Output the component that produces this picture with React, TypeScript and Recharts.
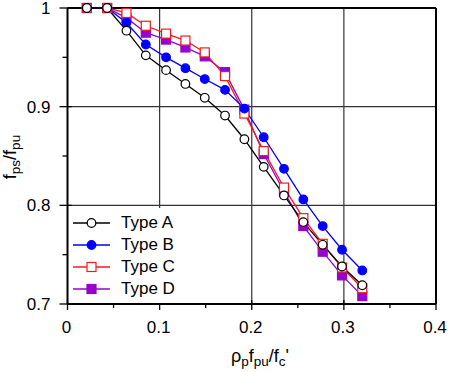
import { Legend, Line, LineChart, ReferenceLine, XAxis, YAxis } from "recharts";

// reinforcement index (rho_p * f_pu / f_c')
const loadRatio = [0.021, 0.043, 0.064, 0.085, 0.107, 0.128, 0.149, 0.171, 0.192, 0.213, 0.235, 0.256, 0.277, 0.298, 0.32];

// stress ratio f_ps / f_pu for each tendon type
const typeA = [1.0, 1.0, 0.977, 0.952, 0.937, 0.923, 0.909, 0.891, 0.867, 0.839, 0.81, 0.783, 0.76, 0.738, 0.719];
const typeB = [1.0, 1.0, 0.985, 0.963, 0.95, 0.939, 0.928, 0.917, 0.898, 0.869, 0.837, 0.806, 0.779, 0.755, 0.734];
const typeC = [1.0, 1.0, 0.995, 0.982, 0.974, 0.967, 0.955, 0.931, 0.893, 0.855, 0.818, 0.787, 0.761, 0.737, 0.716];
const typeD = [1.0, 1.0, 0.99, 0.975, 0.968, 0.96, 0.951, 0.935, 0.897, 0.852, 0.814, 0.779, 0.753, 0.729, 0.708];

const xTicks = [0, 0.05, 0.1, 0.15, 0.2, 0.25, 0.3, 0.35, 0.4];
const yTicks = [0.7, 0.75, 0.8, 0.85, 0.9, 0.95, 1];
const xGrid = [0.1, 0.2, 0.3];
const yGrid = [0.8, 0.9];

const FONT = "'Liberation Sans', Arial, Helvetica, sans-serif";

type Shape = "circle" | "square";

interface Series {
  key: string;
  name: string;
  values: number[];
  color: string;
  shape: Shape;
  filled: boolean;
}

const typeSeries: Series[] = [
  { key: "a", name: "Type A", values: typeA, color: "#000000", shape: "circle", filled: false },
  { key: "b", name: "Type B", values: typeB, color: "#0000ff", shape: "circle", filled: true },
  { key: "c", name: "Type C", values: typeC, color: "#f01c1c", shape: "square", filled: false },
  { key: "d", name: "Type D", values: typeD, color: "#9900cc", shape: "square", filled: true },
];

const data = loadRatio.map((x, i) => {
  const row: Record<string, number> = { x };
  typeSeries.forEach((s) => (row[s.key] = s.values[i]));
  return row;
});

const isMajor = (v: number) => Math.round(v * 100) % 10 === 0;

const Marker = ({ cx, cy, s }: { cx: number; cy: number; s: Series }) =>
  s.shape === "circle" ? (
    <circle cx={cx} cy={cy} r={4.3} fill={s.filled ? s.color : "#fff"} stroke={s.color} strokeWidth={1.2} />
  ) : (
    <rect x={cx - 4.5} y={cy - 4.5} width={9} height={9} fill={s.filled ? s.color : "#fff"} stroke={s.color} strokeWidth={1.2} />
  );

const XTick = ({ x, y, payload }: any) => {
  const major = isMajor(payload.value);
  return (
    <g>
      <line x1={x} x2={x} y1={major ? y - 4 : y} y2={major ? y + 6 : y + 4} stroke="#000" strokeWidth={1.3} />
      {major && (
        <text x={x - 1} y={y + 29} textAnchor="middle" fontSize={17} fontFamily={FONT} fill="#000">
          {String(payload.value)}
        </text>
      )}
    </g>
  );
};

const YTick = ({ x, y, payload }: any) => {
  const major = isMajor(payload.value);
  return (
    <g>
      <line x1={major ? x - 8 : x - 5} x2={major ? x + 4 : x} y1={y} y2={y} stroke="#000" strokeWidth={1.3} />
      {major && (
        <text x={x - 17} y={y + 6} textAnchor="end" fontSize={17} fontFamily={FONT} fill="#000">
          {String(payload.value)}
        </text>
      )}
    </g>
  );
};

const LegendBox = () => (
  <div style={{ background: "#fff", padding: "4px 0 0 4px" }}>
    {typeSeries.map((s) => (
      <div key={s.key} style={{ display: "flex", alignItems: "center", height: 22 }}>
        <svg width={37} height={22} style={{ display: "block" }}>
          <line x1={0} x2={37} y1={11} y2={11} stroke={s.color} strokeWidth={1.3} />
          <Marker cx={18.5} cy={11} s={s} />
        </svg>
        <span style={{ marginLeft: 11, fontSize: 17, fontFamily: FONT, color: "#000" }}>{s.name}</span>
      </div>
    ))}
  </div>
);

const XTitle = ({ viewBox }: any) => {
  const cx = 260;
  const base = viewBox.y + 58;
  return (
    <text x={cx} y={base} textAnchor="middle" fontSize={18} fontFamily={FONT} fill="#000">
      ρ<tspan fontSize={13.5} dy={4}>p</tspan>
      <tspan dy={-4}>f</tspan>
      <tspan fontSize={13.5} dy={4}>pu</tspan>
      <tspan dy={-4}>/f</tspan>
      <tspan fontSize={13.5} dy={4}>c</tspan>
      <tspan dy={-4}>'</tspan>
    </text>
  );
};

const YTitle = () => {
  const x = 16;
  const y = 157;
  return (
    <text x={x} y={y} transform={`rotate(-90, ${x}, ${y})`} textAnchor="middle" fontSize={18} fontFamily={FONT} fill="#000">
      f<tspan fontSize={13.5} dy={4}>ps</tspan>
      <tspan dy={-4}>/f</tspan>
      <tspan fontSize={13.5} dy={4}>pu</tspan>
    </text>
  );
};

// draw D first so Type A markers sit on top
const drawOrder = [...typeSeries].reverse();

export default function App() {
  return (
    <div style={{ position: "absolute", left: 0, top: 0 }}>
      <LineChart width={450} height={372} data={data} margin={{ top: 8, right: 14, bottom: 0, left: 0 }}>
        <XAxis
          type="number"
          dataKey="x"
          domain={[0, 0.4]}
          ticks={xTicks}
          interval={0}
          height={68}
          tickSize={0}
          tickMargin={0}
          tick={<XTick />}
          tickLine={false}
          axisLine={{ stroke: "#000", strokeWidth: 2 }}
          label={{ content: <XTitle /> }}
        />
        <YAxis
          type="number"
          domain={[0.7, 1]}
          ticks={yTicks}
          interval={0}
          width={67.5}
          tickSize={0}
          tickMargin={0}
          tick={<YTick />}
          tickLine={false}
          axisLine={{ stroke: "#000", strokeWidth: 2 }}
          label={{ content: <YTitle /> }}
        />
        {xGrid.map((v) => (
          <ReferenceLine key={`gx${v}`} x={v} stroke="#333" strokeWidth={1.2} />
        ))}
        {yGrid.map((v) => (
          <ReferenceLine key={`gy${v}`} y={v} stroke="#333" strokeWidth={1.2} />
        ))}
        <ReferenceLine x={0.4} stroke="#000" strokeWidth={2} />
        <ReferenceLine y={1} stroke="#000" strokeWidth={2} />
        {drawOrder.map((s) => (
          <Line
            key={s.key}
            dataKey={s.key}
            name={s.name}
            type="linear"
            stroke={s.color}
            strokeWidth={1.3}
            isAnimationActive={false}
            dot={(p: any) => <Marker key={`${s.key}${p.index}`} cx={p.cx} cy={p.cy} s={s} />}
            activeDot={false}
          />
        ))}
        <Legend
          layout="horizontal"
          verticalAlign="middle"
          content={<LegendBox />}
          wrapperStyle={{ left: 69, top: 208, width: 128, height: 95, background: "#fff" }}
        />
      </LineChart>
    </div>
  );
}
